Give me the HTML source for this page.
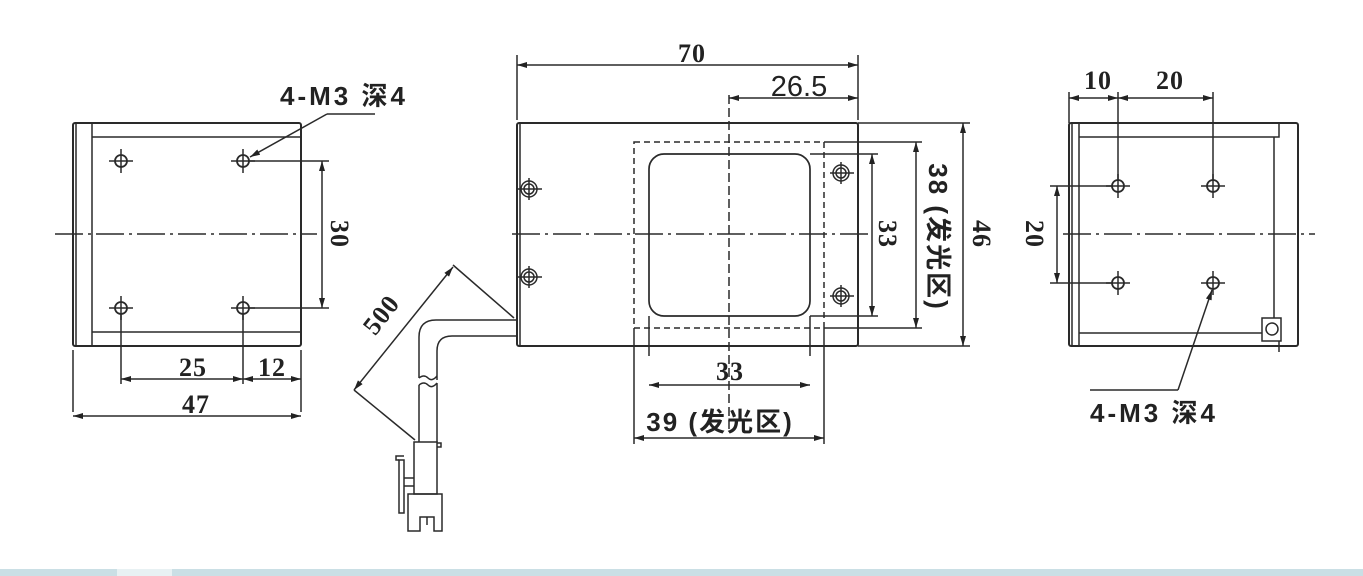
<!DOCTYPE html>
<html><head><meta charset="utf-8"><style>
html,body{margin:0;padding:0;background:#fff;}
svg{display:block}
.s{font-family:"Liberation Serif",serif;font-weight:bold;font-size:26px;fill:#222;letter-spacing:1px}
.a{font-family:"Liberation Sans","Noto Sans CJK SC",sans-serif;font-size:26px;fill:#222;font-weight:bold;letter-spacing:2px}
</style></head><body>
<svg width="1363" height="576" viewBox="0 0 1363 576" xmlns="http://www.w3.org/2000/svg">
<defs>
<marker id="ar" viewBox="0 0 10 6" refX="10" refY="3" markerWidth="14" markerHeight="6" markerUnits="userSpaceOnUse" orient="auto-start-reverse"><path d="M0,0 L10,3 L0,6 z" fill="#222"/></marker>
</defs>
<rect x="0" y="569" width="1363" height="7" fill="#cadfe5"/>
<rect x="117" y="569" width="55" height="7" fill="#e8f1f3"/>
<g stroke="#2a2a2a" fill="none" stroke-width="1.5">
<!-- LEFT VIEW -->
<rect x="73" y="123" width="228" height="223" rx="2" stroke-width="2"/>
<line x1="76" y1="124" x2="76" y2="345"/>
<line x1="92" y1="123" x2="92" y2="346"/>
<line x1="92" y1="137" x2="301" y2="137"/>
<line x1="92" y1="332" x2="301" y2="332"/>
<g stroke-width="1.8">
<circle cx="121" cy="161" r="6"/><circle cx="243" cy="161" r="6"/>
<circle cx="121" cy="308" r="6"/><circle cx="243" cy="308" r="6"/>
</g>
<path d="M109 161h24M121 149v24M231 161h24M243 149v24M109 308h24M121 296v24M231 308h24M243 296v24"/>
<line x1="55" y1="234" x2="317" y2="234" stroke-dasharray="28,5,3,5"/>
<path d="M249 161h80M249 308h80"/>
<line x1="322" y1="161" x2="322" y2="308" marker-start="url(#ar)" marker-end="url(#ar)"/>
<path d="M121 314v70M243 314v70M301 350v62M73 350v62"/>
<line x1="121" y1="379" x2="243" y2="379" marker-start="url(#ar)" marker-end="url(#ar)"/>
<line x1="243" y1="379" x2="301" y2="379" marker-start="url(#ar)" marker-end="url(#ar)"/>
<line x1="73" y1="416" x2="301" y2="416" marker-start="url(#ar)" marker-end="url(#ar)"/>
<path d="M327 114L250 157" marker-end="url(#ar)"/>
<path d="M327 114h48"/>
<!-- MIDDLE VIEW -->
<rect x="517" y="123" width="341" height="223" rx="2" stroke-width="2"/>
<line x1="520" y1="124" x2="520" y2="345"/>
<rect x="634" y="142" width="190" height="186" stroke-dasharray="6,4"/>
<rect x="649" y="154" width="161" height="162" rx="15" stroke-width="1.7"/>
<line x1="729" y1="95" x2="729" y2="432" stroke-dasharray="9,4"/>
<line x1="512" y1="234" x2="872" y2="234" stroke-dasharray="28,5,3,5"/>
<g stroke-width="1.5">
<circle cx="529" cy="189" r="8"/><circle cx="529" cy="189" r="5"/>
<circle cx="529" cy="277" r="8"/><circle cx="529" cy="277" r="5"/>
<circle cx="841" cy="173" r="8"/><circle cx="841" cy="173" r="5"/>
<circle cx="841" cy="296" r="8"/><circle cx="841" cy="296" r="5"/>
</g>
<path d="M518 189h24M529 178v22M518 277h24M529 266v22M830 173h24M841 162v22M830 296h24M841 285v22"/>
<path d="M517 55v65M858 55v65"/>
<line x1="517" y1="65" x2="858" y2="65" marker-start="url(#ar)" marker-end="url(#ar)"/>
<line x1="729" y1="98" x2="858" y2="98" marker-start="url(#ar)" marker-end="url(#ar)"/>
<path d="M810 154h68M810 316h68M824 142h98M824 328h98M858 123h112M858 346h112"/>
<line x1="872" y1="154" x2="872" y2="316" marker-start="url(#ar)" marker-end="url(#ar)"/>
<line x1="916" y1="142" x2="916" y2="328" marker-start="url(#ar)" marker-end="url(#ar)"/>
<line x1="963" y1="123" x2="963" y2="346" marker-start="url(#ar)" marker-end="url(#ar)"/>
<path d="M649 316v40M810 316v40M634 328v116M824 328v116"/>
<line x1="649" y1="385" x2="810" y2="385" marker-start="url(#ar)" marker-end="url(#ar)"/>
<line x1="634" y1="438" x2="824" y2="438" marker-start="url(#ar)" marker-end="url(#ar)"/>
<!-- cable -->
<path d="M517 320H436q-17 0 -17 17V378"/>
<path d="M517 336H452q-15 0 -15 15V380"/>
<path d="M419 378q5 -4 9 0t9 -2M419 385q5 -4 9 0t9 -2"/>
<path d="M419 385V442M437 383V442"/>
<rect x="414" y="442" width="23" height="52"/>
<path d="M437 443h4v4h-4"/>
<path d="M408 494h34v37h-8v-14h-14v14h-12z"/>
<path d="M427 517v8"/>
<path d="M399 460h5v53h-5z"/>
<path d="M399 460h-3v-4h8M404 478h10M404 486h10"/>
<line x1="453" y1="267" x2="354" y2="390" marker-start="url(#ar)" marker-end="url(#ar)"/>
<path d="M453 265L514 318M354 390L415 440"/>
<!-- RIGHT VIEW -->
<rect x="1069" y="123" width="229" height="223" rx="2" stroke-width="2"/>
<line x1="1072" y1="124" x2="1072" y2="345"/>
<line x1="1079" y1="123" x2="1079" y2="346"/>
<path d="M1079 137H1279V123"/>
<path d="M1274 137V318"/>
<path d="M1079 333H1262"/>
<rect x="1262" y="318" width="19" height="23"/>
<circle cx="1272" cy="329" r="6"/>
<path d="M1279 341v11"/>
<g stroke-width="1.8">
<circle cx="1118" cy="186" r="6"/><circle cx="1213" cy="186" r="6"/>
<circle cx="1118" cy="283" r="6"/><circle cx="1213" cy="283" r="6"/>
</g>
<path d="M1106 186h24M1118 174v24M1201 186h24M1213 174v24M1106 283h24M1118 271v24M1201 283h24M1213 271v24"/>
<line x1="1063" y1="234" x2="1315" y2="234" stroke-dasharray="28,5,3,5"/>
<path d="M1069 92v31M1118 92v88M1213 92v88"/>
<line x1="1069" y1="98" x2="1118" y2="98" marker-start="url(#ar)" marker-end="url(#ar)"/>
<line x1="1118" y1="98" x2="1213" y2="98" marker-start="url(#ar)" marker-end="url(#ar)"/>
<path d="M1050 186h62M1050 283h62"/>
<line x1="1057" y1="186" x2="1057" y2="283" marker-start="url(#ar)" marker-end="url(#ar)"/>
<path d="M1178 390L1212 290" marker-end="url(#ar)"/>
<path d="M1178 390H1090"/>
</g>
<!-- TEXT -->
<text class="a" x="280" y="105" style="letter-spacing:3px">4-M3 深4</text>
<text class="s" x="340" y="234" text-anchor="middle" transform="rotate(90 340 234)" dy="9">30</text>
<text class="s" x="193" y="376" text-anchor="middle">25</text>
<text class="s" x="272" y="376" text-anchor="middle">12</text>
<text class="s" x="196" y="413" text-anchor="middle">47</text>
<text class="s" x="692" y="62" text-anchor="middle">70</text>
<text class="a" x="799" y="96" text-anchor="middle" style="font-weight:normal;font-size:29px;letter-spacing:0">26.5</text>
<text class="s" x="888" y="234" text-anchor="middle" transform="rotate(90 888 234)" dy="9">33</text>
<text class="a" x="938" y="237" text-anchor="middle" transform="rotate(90 938 237)" dy="9">38 (发光区)</text>
<text class="s" x="982" y="234" text-anchor="middle" transform="rotate(90 982 234)" dy="9">46</text>
<text class="s" x="730" y="380" text-anchor="middle">33</text>
<text class="a" x="720" y="431" text-anchor="middle">39 (发光区)</text>
<text class="s" x="1098" y="89" text-anchor="middle">10</text>
<text class="s" x="1170" y="89" text-anchor="middle">20</text>
<text class="s" x="1035" y="234" text-anchor="middle" transform="rotate(90 1035 234)" dy="9">20</text>
<text class="a" x="1090" y="422" style="letter-spacing:3px">4-M3 深4</text>
<text class="s" x="388" y="320" text-anchor="middle" transform="rotate(-52 388 320)">500</text>
</svg>
</body></html>
